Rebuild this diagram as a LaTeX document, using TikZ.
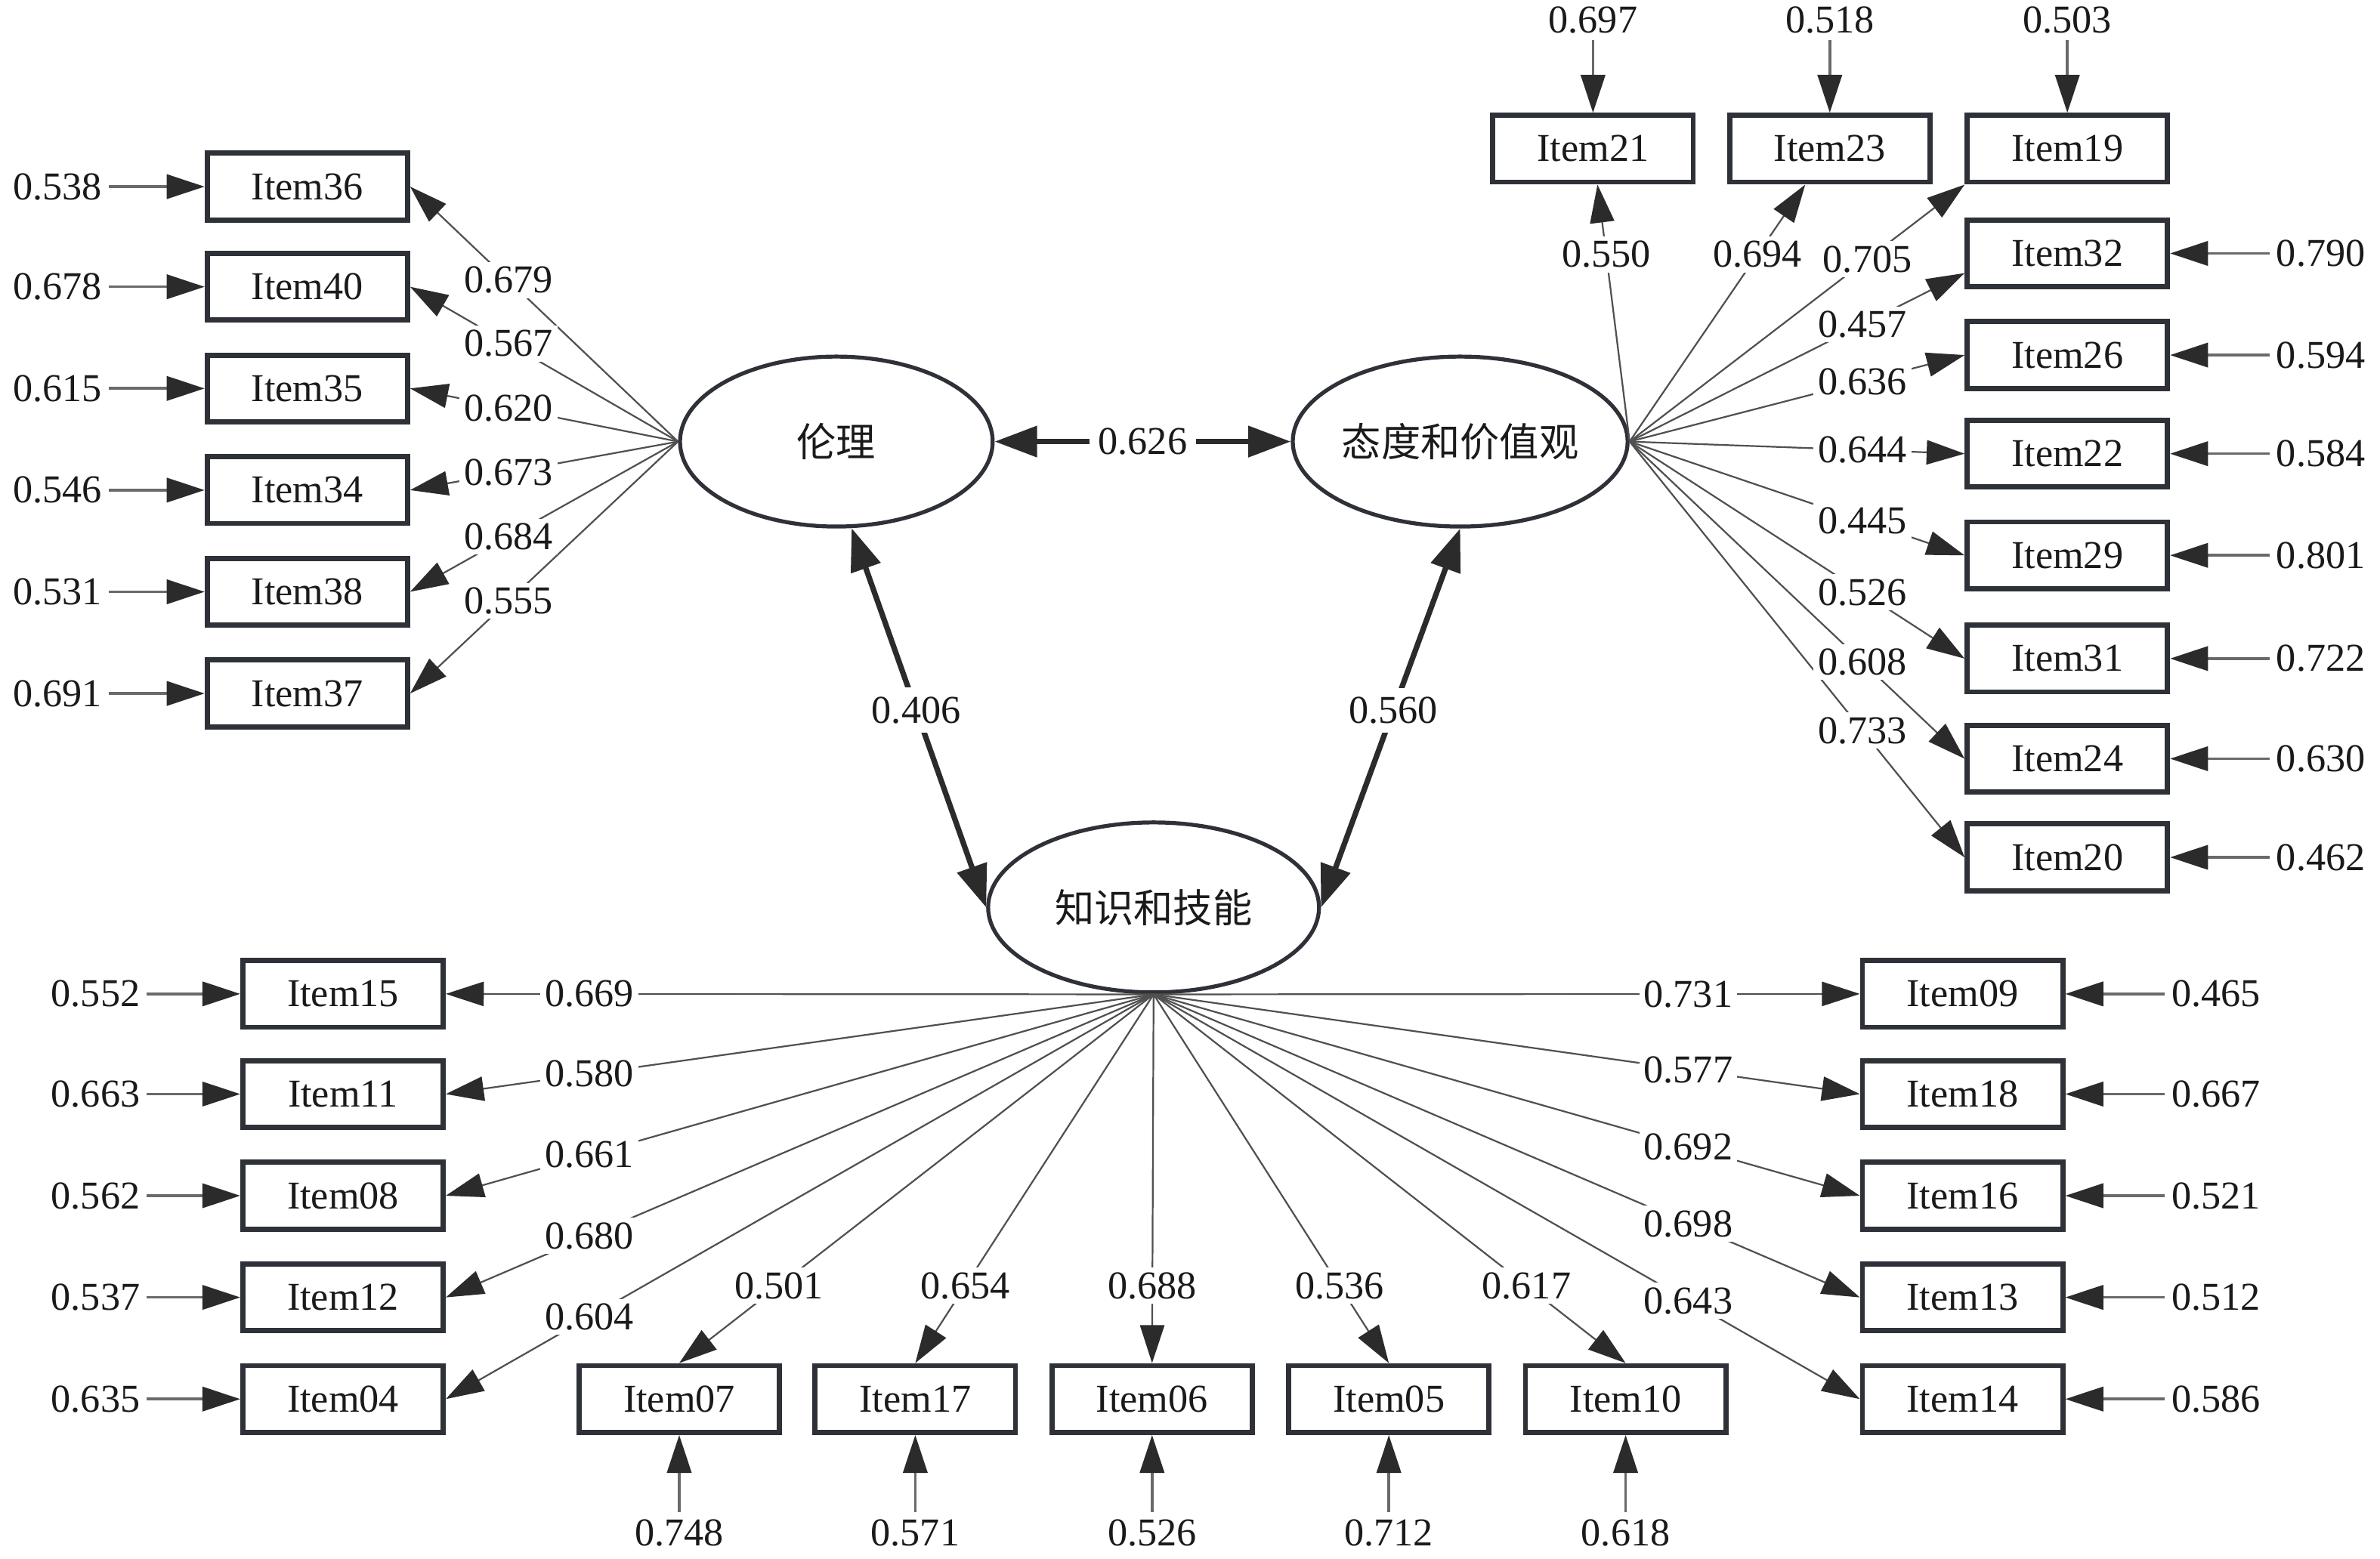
\documentclass[tikz,border=0pt]{standalone}
\usepackage{fontspec}
\setmainfont{Liberation Serif}
\newfontfamily\cjk{Noto Sans CJK SC}
\usetikzlibrary{arrows.meta,shapes.geometric,calc}
\definecolor{boxc}{HTML}{2E3138}
\definecolor{txtc}{HTML}{1A1A1A}
\definecolor{loadc}{HTML}{505050}
\definecolor{errc}{HTML}{6A6A6A}
\definecolor{tipc}{HTML}{2B2B2B}
\begin{document}
\begin{tikzpicture}[x=0.5pt,y=-0.5pt,
  font=\fontsize{13pt}{15pt}\selectfont,
  item/.style={draw=boxc, line width=1.7pt, minimum width=66pt, minimum height=22pt, inner sep=0pt, fill=white, text=txtc},
  latent/.style={ellipse, draw=boxc, line width=1.3pt, inner sep=0pt, fill=white, text=txtc, minimum height=56pt, font=\cjk\fontsize{13pt}{15pt}\selectfont},
  lbl/.style={inner sep=2pt, text=txtc},
  wlbl/.style={inner sep=1.5pt, text=txtc, fill=white},
  load/.style={draw=loadc, line width=0.55pt, -{Triangle[length=12.5pt,width=8pt,color=tipc]}},
  errarr/.style={draw=errc, line width=0.9pt, -{Triangle[length=12.5pt,width=8pt,color=tipc]}},
  cov/.style={draw=tipc, line width=1.8pt, {Triangle[length=14pt,width=10pt]}-{Triangle[length=14pt,width=10pt]}}
]
\useasboundingbox[fill=white] (0,0) rectangle (1568,1027);

% latent variables
\node[latent, minimum width=103pt] (lunli) at (551,291) {伦理};
\node[latent, minimum width=110pt] (taidu) at (962,291) {态度和价值观};
\node[latent, minimum width=109pt] (zhishi) at (760,598) {知识和技能};

% covariances
\draw[cov] (lunli) -- coordinate[pos=0.5] (c1) (taidu);
\draw[cov] (lunli.-80) -- coordinate[pos=0.48] (c2) (zhishi.west);
\draw[cov] (taidu.south) -- coordinate[pos=0.48] (c3) (zhishi.east);
\node[wlbl, inner sep=3pt] (cl1) at (c1) {0.626};
\node[wlbl, inner sep=3pt] (cl2) at (c2) {0.406};
\node[wlbl, inner sep=3pt] (cl3) at (c3) {0.560};

% ---- 伦理 group ----
\foreach \n/\y/\e in {36/123/0.538, 40/189/0.678, 35/256/0.615, 34/323/0.546, 38/390/0.531, 37/457/0.691} {
  \node[item] (i\n) at (202.5,\y) {Item\n};
  \node[lbl] (e\n) at (38,\y) {\e};
  \draw[errarr] (e\n) -- (i\n);
  \draw[load] (lunli.west) -- coordinate[pos=0.633] (p\n) (i\n.east);
}
\foreach \n/\l in {36/0.679, 40/0.567, 35/0.620, 34/0.673, 38/0.684, 37/0.555} {
  \node[wlbl] (l\n) at (p\n) {\l};
}

% ---- 态度和价值观 group: top ----
\foreach \n/\x/\e in {21/1049.5/0.697, 23/1205.5/0.518, 19/1362/0.503} {
  \node[item] (i\n) at (\x,98) {Item\n};
  \node[lbl] (e\n) at (\x,13) {\e};
  \draw[errarr] (e\n) -- (i\n);
}
\draw[load] (taidu.east) -- coordinate[pos=0.728] (p21) (i21);
\draw[load] (taidu.east) -- coordinate[pos=0.728] (p23) (i23);
\draw[load] (taidu.east) -- coordinate[pos=0.71] (p19) (i19.south west);

% ---- 态度和价值观 group: right ----
\foreach \n/\y/\e in {32/167/0.790, 26/234/0.594, 22/299/0.584, 29/366/0.801, 31/434/0.722, 24/500/0.630, 20/565/0.462} {
  \node[item] (i\n) at (1362,\y) {Item\n};
  \node[lbl] (e\n) at (1529,\y) {\e};
  \draw[errarr] (e\n) -- (i\n);
}
\draw[load] (taidu.east) -- coordinate[pos=0.695] (p32) ($(i32.west)+(0,13)$);
\foreach \n in {26,22,29,31,24,20} {
  \draw[load] (taidu.east) -- coordinate[pos=0.695] (p\n) (i\n.west);
}
\foreach \n/\l in {21/0.550, 23/0.694, 19/0.705, 32/0.457, 26/0.636, 22/0.644, 29/0.445, 31/0.526, 24/0.608, 20/0.733} {
  \node[wlbl] (l\n) at (p\n) {\l};
}

% ---- 知识和技能 group: left ----
\foreach \n/\y/\e in {15/655/0.552, 11/721/0.663, 08/788/0.562, 12/855/0.537, 04/922/0.635} {
  \node[item] (i\n) at (226,\y) {Item\n};
  \node[lbl] (e\n) at (63,\y) {\e};
  \draw[errarr] (e\n) -- (i\n);
  \draw[load] (zhishi.south) -- coordinate[pos=0.797] (p\n) (i\n.east);
}
% ---- right ----
\foreach \n/\y/\e in {09/655/0.465, 18/721/0.667, 16/788/0.521, 13/855/0.512, 14/922/0.586} {
  \node[item] (i\n) at (1293,\y) {Item\n};
  \node[lbl] (e\n) at (1460,\y) {\e};
  \draw[errarr] (e\n) -- (i\n);
  \draw[load] (zhishi.south) -- coordinate[pos=0.757] (p\n) (i\n.west);
}
% ---- bottom ----
\foreach \n/\x/\e in {07/447.5/0.748, 17/603/0.571, 06/759/0.526, 05/915/0.712, 10/1071/0.618} {
  \node[item] (i\n) at (\x,922) {Item\n};
  \node[lbl] (e\n) at (\x,1010) {\e};
  \draw[errarr] (e\n) -- (i\n);
  \draw[load] (zhishi.south) -- coordinate[pos=0.79] (p\n) (i\n.north);
}
\foreach \n/\l in {15/0.669, 11/0.580, 08/0.661, 12/0.680, 04/0.604, 09/0.731, 18/0.577, 16/0.692, 13/0.698, 14/0.643, 07/0.501, 17/0.654, 06/0.688, 05/0.536, 10/0.617} {
  \node[wlbl] (l\n) at (p\n) {\l};
}
\end{tikzpicture}
\end{document}
